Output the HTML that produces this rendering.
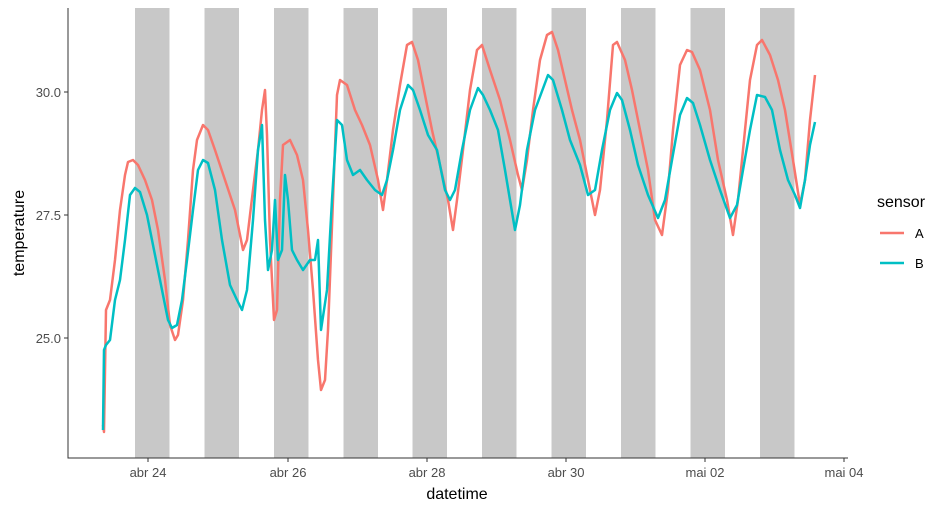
<!DOCTYPE html>
<html><head><meta charset="utf-8"><style>
html,body{margin:0;padding:0;background:#fff;}
svg{display:block;font-family:"Liberation Sans",Arial,sans-serif;}
</style></head><body>
<svg width="950" height="512" viewBox="0 0 950 512" xmlns="http://www.w3.org/2000/svg">
<g fill="#c8c8c8">
<rect x="135" y="8" width="34.5" height="450"/>
<rect x="204.5" y="8" width="34.5" height="450"/>
<rect x="274" y="8" width="34.5" height="450"/>
<rect x="343.5" y="8" width="34.5" height="450"/>
<rect x="412.5" y="8" width="34.5" height="450"/>
<rect x="482" y="8" width="34.5" height="450"/>
<rect x="551.5" y="8" width="34.5" height="450"/>
<rect x="621" y="8" width="34.5" height="450"/>
<rect x="690.5" y="8" width="34.5" height="450"/>
<rect x="760" y="8" width="34.5" height="450"/>
</g>
<polyline fill="none" stroke="#F8766D" stroke-width="2.5" stroke-linejoin="round" points="103,425 104,432 106,310 110,300 115,260 120,210 125,175 128,162 133,160 138,165 145,180 152,200 158,230 165,280 170,325 175,340 178,335 183,300 188,240 193,170 197,140 203,125 208,130 215,150 225,180 235,210 243,250 247,240 253,190 258,150 262,110 265,90 267,135 270,240 274,320 277,310 280,200 283,145 290,140 297,155 303,180 308,230 313,290 318,360 321,390 325,380 328,330 333,200 337,95 340,80 347,85 355,110 362,125 370,145 378,180 383,210 387,180 393,130 400,85 407,45 412,42 418,60 425,95 432,130 440,165 448,200 453,230 457,200 463,150 470,90 477,50 482,45 490,70 500,100 510,140 518,175 522,190 527,160 533,110 540,60 547,35 552,32 558,50 565,80 572,110 580,140 590,190 595,215 600,190 607,120 613,45 617,42 625,60 632,90 640,130 648,170 655,220 662,235 668,190 673,130 680,65 687,50 692,52 700,70 710,110 718,160 727,200 733,235 738,200 743,150 750,80 757,45 762,40 770,55 778,80 785,110 793,160 800,205 805,180 810,120 815,75"/>
<polyline fill="none" stroke="#00BFC4" stroke-width="2.5" stroke-linejoin="round" points="103,430 104,350 106,345 110,340 115,300 120,280 125,240 130,195 135,188 140,192 147,215 155,255 162,290 168,320 172,328 177,325 182,300 187,260 193,210 198,170 203,160 208,163 215,190 222,240 230,285 237,300 242,310 247,290 253,220 258,150 262,125 265,220 268,270 272,250 275,200 278,260 282,250 285,175 288,200 292,250 297,260 303,270 310,260 315,260 318,240 321,330 324,310 327,290 332,200 337,120 342,125 347,160 353,175 360,170 367,180 375,190 382,195 387,180 393,150 400,110 408,85 413,90 420,110 428,135 437,150 445,190 450,200 455,190 462,150 470,110 478,88 483,95 490,110 498,130 505,170 510,200 515,230 520,205 527,150 535,110 548,75 553,80 562,110 570,140 580,165 588,195 595,190 602,150 610,110 617,93 622,100 630,130 638,165 648,195 658,218 665,200 672,160 680,115 687,98 693,103 700,125 710,160 720,190 730,218 737,205 743,170 750,130 757,95 765,97 772,110 780,150 788,180 795,195 800,208 805,180 810,145 815,122"/>
<g stroke="#333" stroke-width="1">
<line x1="68" y1="8" x2="68" y2="458.5"/>
<line x1="67.5" y1="458" x2="848" y2="458"/>
<line x1="64" y1="92" x2="68" y2="92"/>
<line x1="64" y1="215" x2="68" y2="215"/>
<line x1="64" y1="338" x2="68" y2="338"/>
<line x1="148" y1="458" x2="148" y2="462"/>
<line x1="288" y1="458" x2="288" y2="462"/>
<line x1="427" y1="458" x2="427" y2="462"/>
<line x1="566" y1="458" x2="566" y2="462"/>
<line x1="705" y1="458" x2="705" y2="462"/>
<line x1="844" y1="458" x2="844" y2="462"/>
</g>
<g fill="#4d4d4d" font-size="13" text-anchor="end">
<text x="61" y="97">30.0</text>
<text x="61" y="220">27.5</text>
<text x="61" y="343">25.0</text>
</g>
<g fill="#4d4d4d" font-size="13" text-anchor="middle">
<text x="148" y="477">abr 24</text>
<text x="288" y="477">abr 26</text>
<text x="427" y="477">abr 28</text>
<text x="566" y="477">abr 30</text>
<text x="705" y="477">mai 02</text>
<text x="844" y="477">mai 04</text>
</g>
<text x="457" y="499" font-size="16" text-anchor="middle" fill="#000">datetime</text>
<text transform="translate(24,233) rotate(-90)" font-size="16" text-anchor="middle" fill="#000">temperature</text>
<text x="877" y="207" font-size="16" fill="#000">sensor</text>
<line x1="880" y1="233" x2="904" y2="233" stroke="#F8766D" stroke-width="2.5"/>
<line x1="880" y1="263" x2="904" y2="263" stroke="#00BFC4" stroke-width="2.5"/>
<text x="915" y="238" font-size="13" fill="#000">A</text>
<text x="915" y="268" font-size="13" fill="#000">B</text>
</svg>
</body></html>
